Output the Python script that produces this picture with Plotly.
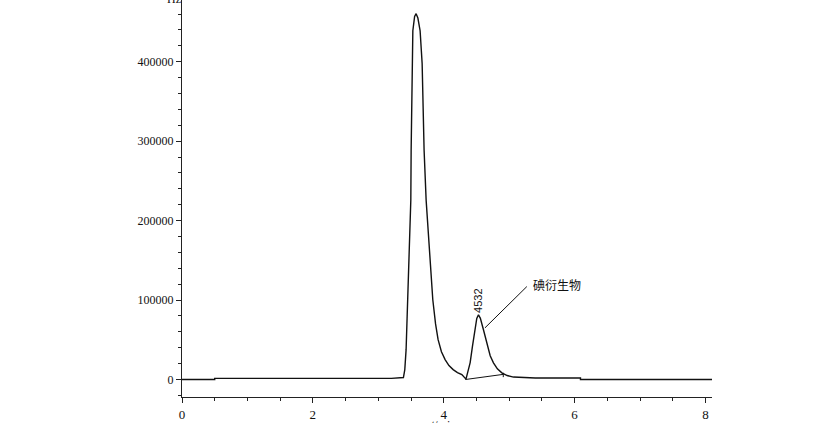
import plotly.graph_objects as go

# Chromatogram trace (time in min, signal in Hz)
time_min = [0.0, 0.5, 0.5, 1.5, 2.5, 3.2, 3.384, 3.405, 3.425, 3.451, 3.471, 3.497, 3.502,
            3.512, 3.528, 3.555, 3.578, 3.605, 3.639, 3.670, 3.685, 3.700, 3.731, 3.777,
            3.833, 3.875, 3.914, 3.965, 4.021, 4.08, 4.144, 4.21, 4.277, 4.34, 4.404, 4.439,
            4.476, 4.505, 4.531, 4.56, 4.607, 4.668, 4.71, 4.760, 4.82, 4.888, 4.97, 5.066,
            5.4, 6.09, 6.09, 7.0, 8.1]
signal_hz = [0, 0, 1500, 1500, 1500, 1500, 2500, 12500, 37600, 100400, 163000, 226000, 288600,
             363900, 439000, 457000, 460500, 455000, 439000, 397700, 332500, 288600, 225800, 163100,
             100400, 70000, 50200, 35000, 25100, 17500, 12500, 8800, 6300, 500, 21300, 41800,
             62700, 77000, 81500, 77000, 62700, 41800, 30000, 21000, 13500, 8400, 5000, 3100,
             2000, 2000, 0, 0, 0]

# integration baseline under the small peak
baseline_t = [4.33, 4.91]
baseline_v = [0, 6500]
baseline_tick_t = [4.91, 4.91]
baseline_tick_v = [3000, 8500]

# leader line for the label
leader_t = [4.63, 5.27]
leader_v = [65000, 117000]

peak_label = "4532"
peak_label_t = 4.531
peak_label_v = 99500
compound_label = "碘衍生物"
compound_t = 5.34
compound_v = 120000

x_ticks = [0, 2, 4, 6, 8]
y_ticks = [0, 100000, 200000, 300000, 400000]

fig = go.Figure()
line_style = dict(color="#111111", width=1.4)
fig.add_trace(go.Scatter(x=time_min, y=signal_hz, mode="lines", line=line_style,
                         hoverinfo="skip", showlegend=False))
fig.add_trace(go.Scatter(x=baseline_t, y=baseline_v, mode="lines",
                         line=dict(color="#111111", width=1), showlegend=False))
fig.add_trace(go.Scatter(x=baseline_tick_t, y=baseline_tick_v, mode="lines",
                         line=dict(color="#111111", width=1), showlegend=False))
fig.add_trace(go.Scatter(x=leader_t, y=leader_v, mode="lines",
                         line=dict(color="#111111", width=1), showlegend=False))

fig.add_annotation(x=peak_label_t, y=peak_label_v, text=peak_label, textangle=-90,
                   showarrow=False, font=dict(family="Liberation Sans", size=11, color="#111"))
fig.add_annotation(x=compound_t, y=compound_v, text=compound_label, xanchor="left",
                   showarrow=False, font=dict(family="Noto Sans CJK SC", size=12, color="#111"))
fig.add_annotation(xref="paper", yref="paper", x=-0.032, y=1.0025, text="Hz",
                   showarrow=False, yanchor="middle",
                   font=dict(family="Liberation Serif", size=12, color="#111"))
fig.add_annotation(xref="paper", yref="paper", x=0.4925, y=-0.0705, text="<i>t</i>/min",
                   showarrow=False, yanchor="middle",
                   font=dict(family="Liberation Serif", size=12, color="#111"))

fig.update_layout(
    width=818, height=423,
    margin=dict(l=182, r=106, t=0, b=26),
    paper_bgcolor="white", plot_bgcolor="white",
    font=dict(family="Liberation Serif", size=12, color="#111"),
    showlegend=False,
)
fig.update_xaxes(range=[0, 8.1], tickvals=x_ticks, ticktext=[str(v) for v in x_ticks],
                 showgrid=False, zeroline=False, showline=True, linecolor="#222", linewidth=1.2,
                 ticks="outside", ticklen=5, tickcolor="#222",
                 minor=dict(dtick=0.5, tick0=0, ticks="outside", ticklen=3, tickcolor="#222"),
                 tickfont=dict(family="Liberation Serif", size=13, color="#111"))
fig.update_yaxes(range=[-22000, 477700], tickvals=y_ticks, ticktext=[str(v) for v in y_ticks],
                 showgrid=False, zeroline=False, showline=True, linecolor="#222", linewidth=1.2,
                 ticks="outside", ticklen=5, tickcolor="#222",
                 minor=dict(dtick=20000, tick0=0, ticks="outside", ticklen=3, tickcolor="#222"),
                 tickfont=dict(family="Liberation Serif", size=12, color="#111"))

fig.write_html("out.html", config={"displayModeBar": False},
               post_script="document.body.style.margin='0';document.body.style.overflow='hidden';")
